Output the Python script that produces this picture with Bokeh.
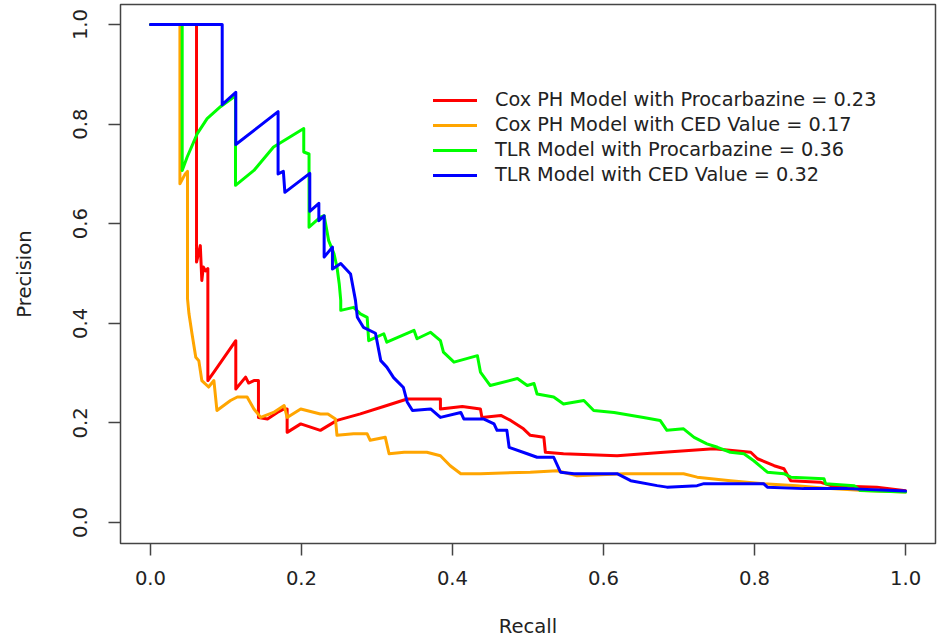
from bokeh.plotting import figure
from bokeh.models import Range1d, FixedTicker, PrintfTickFormatter, Legend, LegendItem
from bokeh.embed import file_html
from bokeh.resources import INLINE

# ---------------- data ----------------
tick_values = [0.0, 0.2, 0.4, 0.6, 0.8, 1.0]

series_names = [
    "Cox PH Model with Procarbazine = 0.23",
    "Cox PH Model with CED Value = 0.17",
    "TLR Model with Procarbazine = 0.36",
    "TLR Model with CED Value = 0.32",
]
series_colors = ["#FF0000", "#FFA500", "#00FF00", "#0000FF"]

cox_proc_recall = [0, 0.061, 0.061, 0.066, 0.068, 0.070, 0.073, 0.076, 0.076, 0.084, 0.113, 0.113,
                   0.126, 0.130, 0.137, 0.143, 0.143, 0.155, 0.168, 0.177, 0.181, 0.181, 0.199,
                   0.225, 0.247, 0.278, 0.313, 0.340, 0.384, 0.384, 0.413, 0.437, 0.439, 0.464,
                   0.477, 0.494, 0.503, 0.521, 0.523, 0.547, 0.618, 0.680, 0.746, 0.795, 0.804,
                   0.826, 0.839, 0.848, 0.887, 0.901, 0.962, 1.0]
cox_proc_precision = [1.0, 1.0, 0.523, 0.556, 0.486, 0.513, 0.505, 0.51, 0.285, 0.302, 0.365, 0.268,
                      0.292, 0.28, 0.285, 0.285, 0.211, 0.208, 0.221, 0.228, 0.228, 0.181, 0.198,
                      0.185, 0.205, 0.218, 0.235, 0.248, 0.248, 0.228, 0.233, 0.228, 0.211, 0.215,
                      0.205, 0.188, 0.175, 0.171, 0.141, 0.138, 0.134, 0.141, 0.148, 0.141, 0.128,
                      0.114, 0.108, 0.084, 0.081, 0.074, 0.071, 0.064]

cox_ced_recall = [0, 0.039, 0.039, 0.046, 0.049, 0.049, 0.051, 0.055, 0.060, 0.064, 0.068, 0.077,
                  0.084, 0.088, 0.106, 0.115, 0.128, 0.137, 0.146, 0.163, 0.177, 0.181, 0.199,
                  0.225, 0.235, 0.245, 0.247, 0.269, 0.287, 0.291, 0.311, 0.316, 0.336, 0.366,
                  0.384, 0.397, 0.411, 0.437, 0.503, 0.539, 0.565, 0.627, 0.706, 0.724, 0.768,
                  0.812, 0.856, 0.901, 0.945, 1.0]
cox_ced_precision = [1.0, 1.0, 0.68, 0.70, 0.705, 0.45, 0.419, 0.379, 0.332, 0.325, 0.285, 0.272,
                     0.285, 0.225, 0.245, 0.252, 0.252, 0.228, 0.211, 0.221, 0.235, 0.211, 0.228,
                     0.218, 0.218, 0.208, 0.175, 0.178, 0.178, 0.165, 0.171, 0.138, 0.141, 0.141,
                     0.134, 0.114, 0.098, 0.098, 0.101, 0.104, 0.094, 0.098, 0.098, 0.091, 0.084,
                     0.078, 0.074, 0.068, 0.064, 0.061]

tlr_proc_recall = [0, 0.042, 0.042, 0.0486, 0.062, 0.075, 0.0927, 0.1126, 0.1126, 0.137, 0.163,
                   0.203, 0.203, 0.21, 0.21, 0.225, 0.23, 0.236, 0.243, 0.247, 0.25, 0.252, 0.252,
                   0.269, 0.278, 0.287, 0.289, 0.309, 0.313, 0.349, 0.353, 0.371, 0.384, 0.388,
                   0.402, 0.433, 0.437, 0.450, 0.486, 0.499, 0.508, 0.512, 0.534, 0.547, 0.574,
                   0.587, 0.614, 0.653, 0.675, 0.684, 0.706, 0.720, 0.737, 0.751, 0.768, 0.786,
                   0.799, 0.817, 0.839, 0.848, 0.892, 0.894, 0.932, 0.940, 1.0]
tlr_proc_precision = [1.0, 1.0, 0.707, 0.734, 0.781, 0.811, 0.835, 0.857, 0.677, 0.707, 0.754,
                      0.791, 0.744, 0.740, 0.593, 0.613, 0.616, 0.566, 0.540, 0.513, 0.479, 0.446,
                      0.426, 0.432, 0.419, 0.412, 0.365, 0.379, 0.362, 0.386, 0.369, 0.382, 0.365,
                      0.342, 0.322, 0.335, 0.302, 0.275, 0.289, 0.275, 0.279, 0.258, 0.252, 0.238,
                      0.245, 0.225, 0.221, 0.211, 0.205, 0.185, 0.188, 0.171, 0.158, 0.151, 0.141,
                      0.138, 0.124, 0.101, 0.098, 0.091, 0.088, 0.078, 0.074, 0.064, 0.061]

tlr_ced_recall = [0, 0.095, 0.095, 0.113, 0.113, 0.169, 0.169, 0.176, 0.178, 0.211, 0.211, 0.223,
                  0.223, 0.230, 0.230, 0.241, 0.241, 0.252, 0.265, 0.2715, 0.274, 0.282, 0.298,
                  0.305, 0.313, 0.322, 0.335, 0.340, 0.347, 0.371, 0.384, 0.411, 0.415, 0.441,
                  0.455, 0.459, 0.472, 0.475, 0.499, 0.512, 0.534, 0.543, 0.561, 0.618, 0.636,
                  0.671, 0.684, 0.724, 0.733, 0.812, 0.817, 0.865, 0.923, 1.0]
tlr_ced_precision = [1.0, 1.0, 0.839, 0.864, 0.759, 0.825, 0.700, 0.705, 0.663, 0.701, 0.625, 0.641,
                     0.606, 0.616, 0.533, 0.553, 0.509, 0.52, 0.499, 0.446, 0.412, 0.392, 0.380,
                     0.325, 0.312, 0.291, 0.271, 0.242, 0.225, 0.228, 0.211, 0.221, 0.208, 0.208,
                     0.198, 0.185, 0.185, 0.151, 0.138, 0.131, 0.131, 0.101, 0.098, 0.098, 0.084,
                     0.074, 0.071, 0.074, 0.078, 0.078, 0.071, 0.068, 0.068, 0.063]

recalls = [cox_proc_recall, cox_ced_recall, tlr_proc_recall, tlr_ced_recall]
precisions = [cox_proc_precision, cox_ced_precision, tlr_proc_precision, tlr_ced_precision]

# ---------------- styling ----------------
FONT = "DejaVu Sans"
FS = "19.6px"
LFS = "19.3px"
TXT = "#222222"
AX = "#444444"

p = figure(width=938, height=641, output_backend="svg", toolbar_location=None,
           x_range=Range1d(-0.0397, 1.0397), y_range=Range1d(-0.0422, 1.0402),
           min_border_left=120, min_border_right=3, min_border_top=4, min_border_bottom=98,
           x_axis_label="Recall", y_axis_label="Precision")

p.background_fill_color = "white"
p.border_fill_color = "white"
p.outline_line_color = AX
p.outline_line_width = 1.5
p.xgrid.visible = False
p.ygrid.visible = False

for ax in (p.xaxis[0], p.yaxis[0]):
    ax.ticker = FixedTicker(ticks=tick_values)
    ax.formatter = PrintfTickFormatter(format="%.1f")
    ax.axis_line_color = None
    ax.major_tick_in = 0
    ax.major_tick_out = 12
    ax.major_tick_line_color = AX
    ax.major_tick_line_width = 1.5
    ax.minor_tick_line_color = None
    ax.major_label_text_font = FONT
    ax.major_label_text_font_size = FS
    ax.major_label_text_color = TXT
    ax.axis_label_text_font = FONT
    ax.axis_label_text_font_size = FS
    ax.axis_label_text_color = TXT
    ax.axis_label_text_font_style = "normal"

p.xaxis[0].major_label_standoff = 15
p.xaxis[0].axis_label_standoff = 27
p.yaxis[0].major_label_orientation = "parallel"
p.yaxis[0].major_label_standoff = 21
p.yaxis[0].axis_label_standoff = 35

items = []
for name, color, rx, py in zip(series_names, series_colors, recalls, precisions):
    r = p.line(rx, py, line_color=color, line_width=3, line_join="round", line_cap="round")
    items.append(LegendItem(label=name, renderers=[r]))

legend = Legend(items=items, location=(313, 357), orientation="vertical",
                border_line_color=None, background_fill_alpha=0,
                padding=0, margin=0, spacing=2,
                glyph_width=44, glyph_height=20, label_height=20, label_standoff=18,
                label_text_font=FONT, label_text_font_size=LFS, label_text_color=TXT)
p.add_layout(legend, "center")

open("out.html", "w").write(file_html(p, INLINE))
